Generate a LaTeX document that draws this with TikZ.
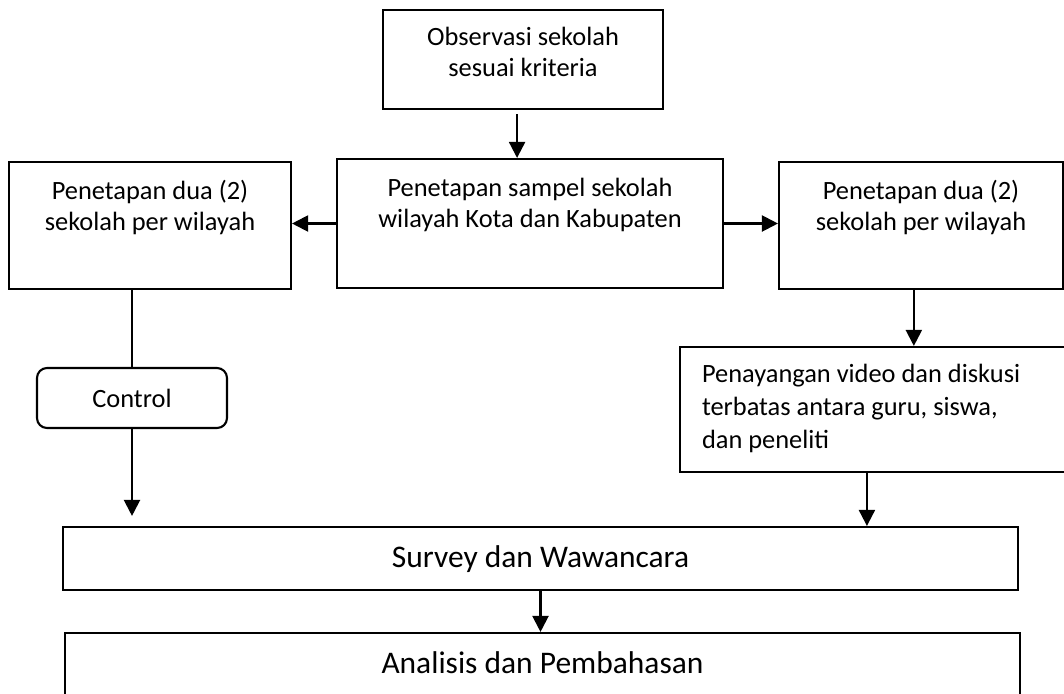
\documentclass[tikz,border=0pt]{standalone}
\usepackage{fontspec}
\setmainfont{Carlito}
\usepackage{tikz}
\usetikzlibrary{arrows.meta}
\usetikzlibrary{calc}
\tikzset{>={Triangle[length=12pt,width=12pt]}}
\tikzset{
	box/.style={draw, line width=1.6pt, inner sep=0pt},
	ctrlbox/.style={draw, line width=1.6pt, rounded corners=7.5pt, inner sep=0pt,
		minimum width=142.5pt, minimum height=45pt},
	conn/.style={line width=1.6pt},
	small/.style={font=\fontsize{19.8pt}{23.25pt}\selectfont},
	big/.style={font=\fontsize{23.6pt}{28pt}\selectfont}
}
% text set at the top of a box: width, height, space above, text
\newcommand{\boxtext}[4]{\parbox[c][#2][t]{#1}{\centering\vspace*{#3}\strut#4}}

\begin{document}
\begin{tikzpicture}[x=0.75pt,y=-0.75pt,line join=miter]
	\useasboundingbox (0,0) rectangle (1064,693);
	% boxes
	\node[box,small] (obs) at (523,59.5) {\boxtext{210pt}{74.25pt}{10.5pt}{Observasi sekolah\\sesuai kriteria}};
	\node[box,small] (samp) at (530,223.5) {\boxtext{289.5pt}{96.75pt}{12pt}{Penetapan sampel sekolah\\wilayah Kota dan Kabupaten}};
	\node[box,small] (kiri) at (150,225.5) {\boxtext{211.5pt}{95.25pt}{12pt}{Penetapan dua (2)\\sekolah per wilayah}};
	\node[box,small] (kanan) at (921,225.5) {\boxtext{213pt}{95.25pt}{12pt}{Penetapan dua (2)\\sekolah per wilayah}};
	\node[ctrlbox,small] (ctrl) at (132,398) {Control};
	\node[box,font=\fontsize{19.8pt}{24.4pt}\selectfont] (tayang) at (880,409.5) {\parbox[c][93.75pt][t]{300pt}{\raggedright\leftskip=16.5pt\vspace*{9.9pt}\strut Penayangan video dan diskusi\\terbatas antara guru, siswa,\\dan peneliti}};
	\node[box,big] (survey) at (540.5,558.5) {\boxtext{716.25pt}{47.25pt}{10.4pt}{Survey dan Wawancara}};
	\node[box,big] (analisis) at (542.5,683) {\boxtext{716.25pt}{75pt}{10.4pt}{Analisis dan Pembahasan}};
	% connectors
	\coordinate (obsOut) at ($(obs.south west)!0.479!(obs.south east)+(0,4)$);
	\draw[conn,->] (obsOut) -- (obsOut |- samp.north);
	\draw[conn,->] (samp.west) -- (samp.west -| kiri.east);
	\draw[conn,->] (samp.east) -- (samp.east -| kanan.west);
	\draw[conn] (ctrl.north |- kiri.south) -- (ctrl.north);
	\coordinate (ctrlEnd) at ($(ctrl.south |- survey.north)+(0,-10)$);
	\draw[conn,->] (ctrl.south) -- (ctrlEnd);
	\coordinate (kananOut) at ($(kanan.south west)!0.475!(kanan.south east)$);
	\draw[conn,->] (kananOut) -- (kananOut |- tayang.north);
	\coordinate (tayangOut) at ($(tayang.south west)!0.4675!(tayang.south east)$);
	\draw[conn,->] (tayangOut) -- (tayangOut |- survey.north);
	\draw[conn,->] (survey.south) -- (survey.south |- analisis.north);
\end{tikzpicture}
\end{document}
